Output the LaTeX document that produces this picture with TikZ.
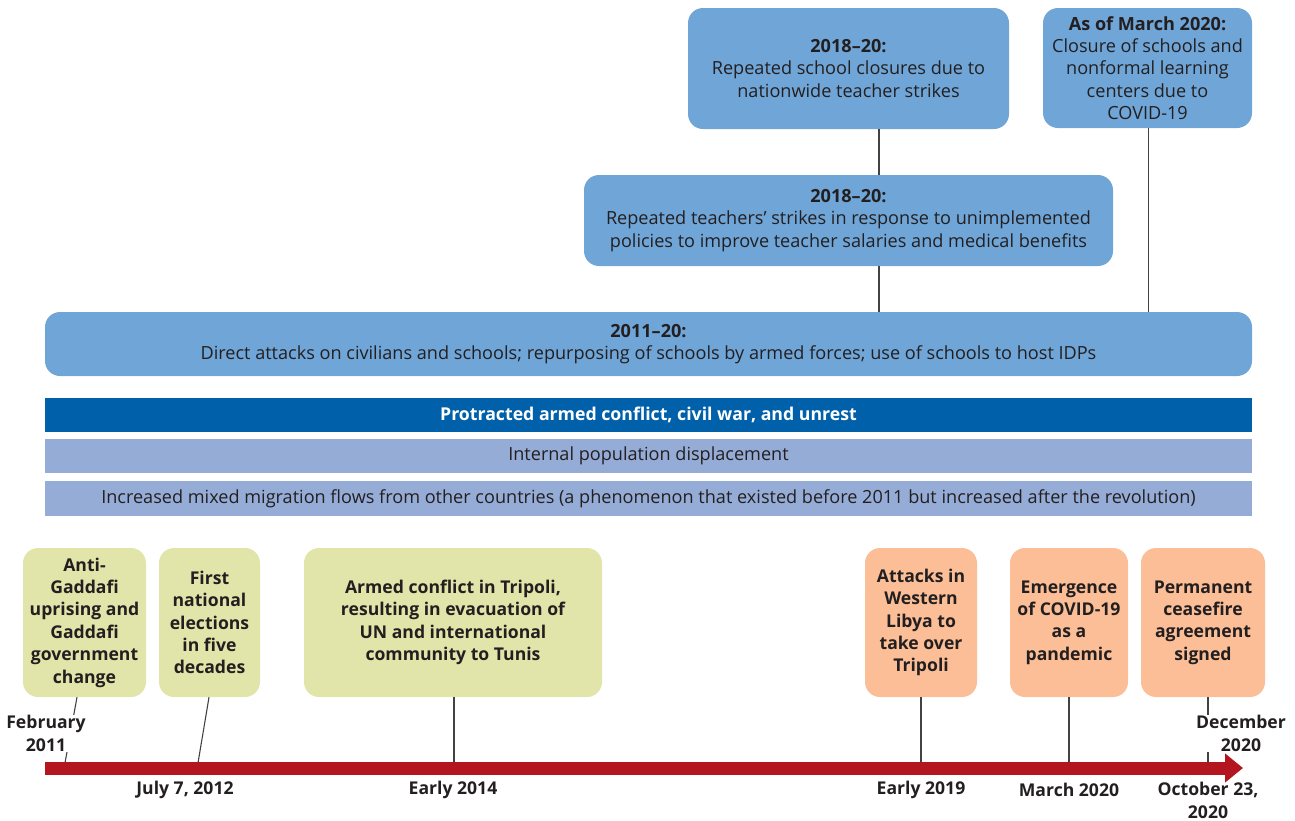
\documentclass[tikz,border=0pt]{standalone}
\usepackage{fontspec}
\setmainfont{Open Sans}
\usetikzlibrary{arrows.meta}
\definecolor{lblue}{HTML}{6FA5D7}
\definecolor{dblue}{HTML}{0061AA}
\definecolor{mblue}{HTML}{95ACD7}
\definecolor{ygreen}{HTML}{E1E5A9}
\definecolor{orng}{HTML}{FBBE97}
\definecolor{tred}{HTML}{B3161E}
\definecolor{txt}{HTML}{231F20}
\begin{document}
\begin{tikzpicture}[x=1pt,y=-1pt,
  box/.style={rounded corners=15pt, inner sep=0pt, align=center, text=txt,
    font=\fontsize{18.1}{22.4}\selectfont},
  bluebox/.style={box, fill=lblue},
  bar/.style={inner sep=0pt, align=center, text=txt, minimum width=1207,
    font=\fontsize{18.1}{22.4}\selectfont},
  evbox/.style={box, font=\fontsize{17.6}{22.4}\selectfont\bfseries, minimum height=149},
  grbox/.style={evbox, fill=ygreen},
  orbox/.style={evbox, fill=orng},
  conn/.style={draw=txt!85, line width=1.1pt},
  date/.style={inner sep=1pt, align=center, text=txt,
    font=\fontsize{17.6}{22.4}\selectfont\bfseries},
]
\useasboundingbox (0,0) rectangle (1295,820);

% top blue boxes
\node[bluebox, minimum width=321, minimum height=121] (t1) at (848.5,68.5)
  {\textbf{2018–20:}\\Repeated school closures due to\\nationwide teacher strikes};
\node[bluebox, minimum width=209, minimum height=120] (t2) at (1147.5,68)
  {\textbf{As of March 2020:}\\Closure of schools and\\nonformal learning\\centers due to\\COVID-19};
\node[bluebox, minimum width=529, minimum height=91] (m) at (848.5,220.5)
  {\textbf{2018–20:}\\Repeated teachers’ strikes in response to unimplemented\\policies to improve teacher salaries and medical benefits};
\node[bluebox, minimum width=1207, minimum height=64] (big) at (648.5,344)
  {\textbf{2011–20:}\\Direct attacks on civilians and schools; repurposing of schools by armed forces; use of schools to host IDPs};

\coordinate (c1) at (879,0);
\coordinate (c2) at (1148.5,0);
\draw[conn] (t1.south -| c1) -- (m.north -| c1);
\draw[conn] (m.south -| c1) -- (big.north -| c1);
\draw[conn] (t2.south -| c2) -- (big.north -| c2);

% bars
\node[bar, fill=dblue, minimum height=34, text=white, font=\fontsize{17.7}{22.4}\selectfont\bfseries] (b1) at (648.5,415)
  {Protracted armed conflict, civil war, and unrest};
\node[bar, fill=mblue, minimum height=34] (b2) at (648.5,456)
  {Internal population displacement};
\node[bar, fill=mblue, minimum height=35] (b3) at (648.5,498.5)
  {Increased mixed migration flows from other countries (a phenomenon that existed before 2011 but increased after the revolution)};

% event boxes
\node[grbox, minimum width=123] (eA) at (84.5,622.5)
  {Anti-\\Gaddafi\\uprising and\\Gaddafi\\government\\change};
\node[grbox, minimum width=101] (eB) at (209.5,622.5)
  {First\\national\\elections\\in five\\decades};
\node[grbox, minimum width=298] (eC) at (453,622.5)
  {Armed conflict in Tripoli,\\resulting in evacuation of\\UN and international\\community to Tunis};
\node[orbox, minimum width=112] (eD) at (921,622.5)
  {Attacks in\\Western\\Libya to\\take over\\Tripoli};
\node[orbox, minimum width=118] (eE) at (1069,622.5)
  {Emergence\\of COVID-19\\as a\\pandemic};
\node[orbox, minimum width=124] (eF) at (1203,622.5)
  {Permanent\\ceasefire\\agreement\\signed};

% timeline points
\coordinate (pA) at (65,763);
\coordinate (pB) at (198,763);
\coordinate (pC) at (454,763);
\coordinate (pD) at (921,763);
\coordinate (pE) at (1069,763);
\coordinate (pF) at (1208,763);
\coordinate (aA) at (77,0);
\coordinate (aB) at (209,0);
\coordinate (aF) at (1208,0);
\draw[conn] (eA.south -| aA) -- (pA);
\draw[conn] (eB.south -| aB) -- (pB);
\draw[conn] (eC.south -| pC) -- (pC);
\draw[conn] (eD.south) -- (pD);
\draw[conn] (eE.south) -- (pE);
\draw[conn] (eF.south -| aF) -- (pF);

% timeline
\coordinate (tl0) at (45,768);
\coordinate (tl1) at (1243,768);
\draw[tred, line width=13pt, -{Triangle[length=18pt,width=28pt]}] (tl0) -- (tl1);

% date labels
\node[date, fill=white] (dA) at (46,733.5) {February\\2011};
\node[date] (dB) at (185,790) {July 7, 2012};
\node[date] (dC) at (453,790) {Early 2014};
\node[date] (dD) at (921,790) {Early 2019};
\node[date] (dE) at (1069,790) {March 2020};
\node[date] (dF) at (1208,800.5) {October 23,\\2020};
\node[date, fill=white] (dG) at (1241,733.5) {December\\2020};
\end{tikzpicture}
\end{document}
